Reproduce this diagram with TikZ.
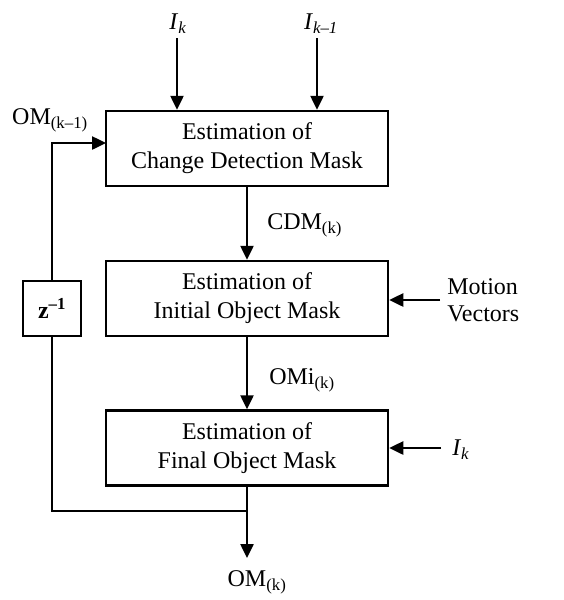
\documentclass[tikz,border=0pt]{standalone}
\usepackage{fontspec}
\setmainfont{Liberation Serif}
\usetikzlibrary{arrows.meta}
\begin{document}
\begin{tikzpicture}[x=1pt,y=-1pt, line width=2.5pt, line join=miter,
  blk/.style={draw, minimum width=282pt, minimum height=75pt, align=center,
    font=\fontsize{24}{29}\selectfont, inner sep=0pt},
  lbl/.style={font=\fontsize{24}{29}\selectfont, inner sep=0pt},
  arr/.style={-{Triangle[length=14pt,width=13pt]}}]
\useasboundingbox (0,0) rectangle (563,600);
\node[blk] (b1) at (247,148.5) {Estimation of\\Change Detection Mask};
\node[blk] (b2) at (247,298.5) {Estimation of\\Initial Object Mask};
\node[blk] (b3) at (247,448) {Estimation of\\Final Object Mask};
\node[draw, minimum width=58pt, minimum height=55pt, inner sep=0pt,
  font=\fontsize{24}{29}\selectfont] (z) at (52,308.5)
  {\textbf{z}\textsuperscript{\textbf{–1}}};
% labels
\node[lbl] (lik) at (178,24) {\textit{I}\textsubscript{\textit{k}}};
\node[lbl] (likm) at (321,24) {\textit{I}\textsubscript{\textit{k–1}}};
\node[lbl] (lomkm) at (50,120) {OM\textsubscript{(k–1)}};
\node[lbl, anchor=west] (lcdm) at (266,225) {CDM\textsubscript{(k)}};
\node[lbl, anchor=west] (lomi) at (268,380) {OMi\textsubscript{(k)}};
\node[lbl, anchor=west, align=left, font=\fontsize{24}{27}\selectfont] (lmv) at (446,300) {Motion\\Vectors};
\node[lbl, anchor=west] (likr) at (451,450) {\textit{I}\textsubscript{\textit{k}}};
\node[lbl] (lomk) at (257,582) {OM\textsubscript{(k)}};
% coordinates
\coordinate (i1) at (177,38);
\coordinate (i2) at (317,38);
\coordinate (mv) at (440,300);
\coordinate (ir) at (441,448);
\coordinate (j) at (247,511);
\coordinate (om) at (247,558);
\coordinate (fb) at (106,143);
% connectors
\draw[arr] (i1) -- (i1 |- b1.north);
\draw[arr] (i2) -- (i2 |- b1.north);
\draw[arr] (b1.south) -- (b2.north);
\draw[arr] (b2.south) -- (b3.north);
\draw[arr] (mv) -- (b2.east |- mv);
\draw[arr] (ir) -- (b3.east |- ir);
\draw[arr] (b3.south) -- (om);
\draw (j) -| (z.south);
\draw[arr] (z.north) |- (fb);
\end{tikzpicture}
\end{document}
